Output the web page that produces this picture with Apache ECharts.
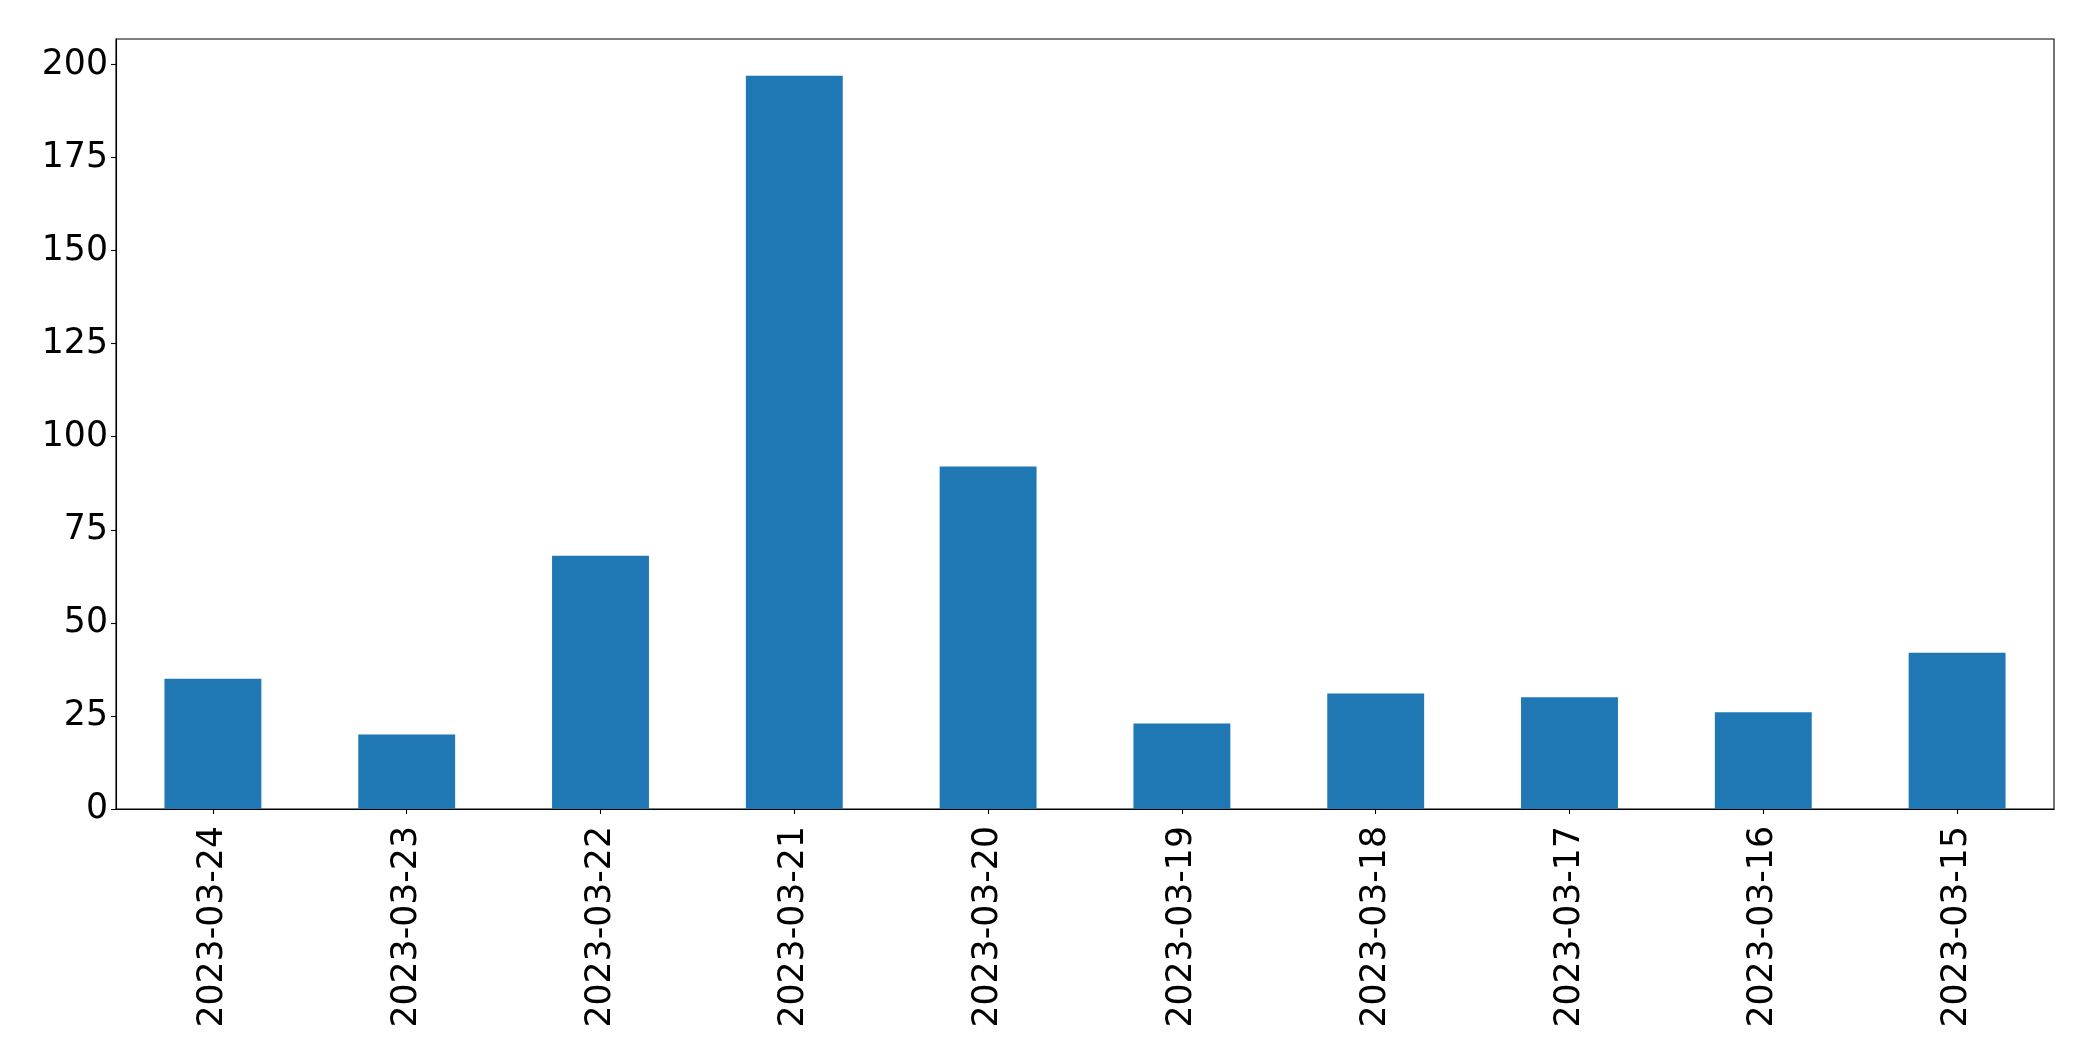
<!DOCTYPE html>
<html>
<head>
<meta charset="utf-8">
<script src="https://cdn.jsdelivr.net/npm/echarts@6/dist/echarts.min.js"></script>
<style>
html,body{margin:0;padding:0;background:#fff;}
#chart{width:2093px;height:1061px;}
</style>
</head>
<body>
<div id="chart"></div>
<script>
const categories = ["2023-03-24","2023-03-23","2023-03-22","2023-03-21","2023-03-20","2023-03-19","2023-03-18","2023-03-17","2023-03-16","2023-03-15"];
const values = [35, 20, 68, 197, 92, 23, 31, 30, 26, 42];
const yTicks = [0, 25, 50, 75, 100, 125, 150, 175, 200];
const yMax = 206.85;

const chart = echarts.init(document.getElementById('chart'), null, {renderer: 'canvas'});
const font = 'DejaVu Sans';
chart.setOption({
  animation: false,
  backgroundColor: '#ffffff',
  grid: {
    left: 116, right: 39, top: 39, bottom: 252,
    show: true, borderColor: '#000', borderWidth: 1.1, backgroundColor: 'transparent'
  },
  xAxis: {
    type: 'category',
    data: categories,
    axisLine: {show: true, lineStyle: {color: '#000', width: 1.1}},
    axisTick: {show: true, alignWithLabel: true, length: 5, lineStyle: {color: '#000', width: 1.1}},
    axisLabel: {rotate: 90, margin: 17, color: '#000', fontFamily: font, fontSize: 34.7, interval: 0},
    splitLine: {show: false}
  },
  yAxis: {
    type: 'value',
    min: 0, max: yMax,
    axisLine: {show: true, lineStyle: {color: '#000', width: 1.1}},
    axisTick: {show: true, length: 5, customValues: yTicks, lineStyle: {color: '#000', width: 1.1}},
    axisLabel: {margin: 8, color: '#000', fontFamily: font, fontSize: 34.7, customValues: yTicks},
    splitLine: {show: false}
  },
  series: [{
    type: 'bar',
    data: values,
    barWidth: '50%',
    itemStyle: {color: '#1f77b4'}
  }]
});
</script>
</body>
</html>
